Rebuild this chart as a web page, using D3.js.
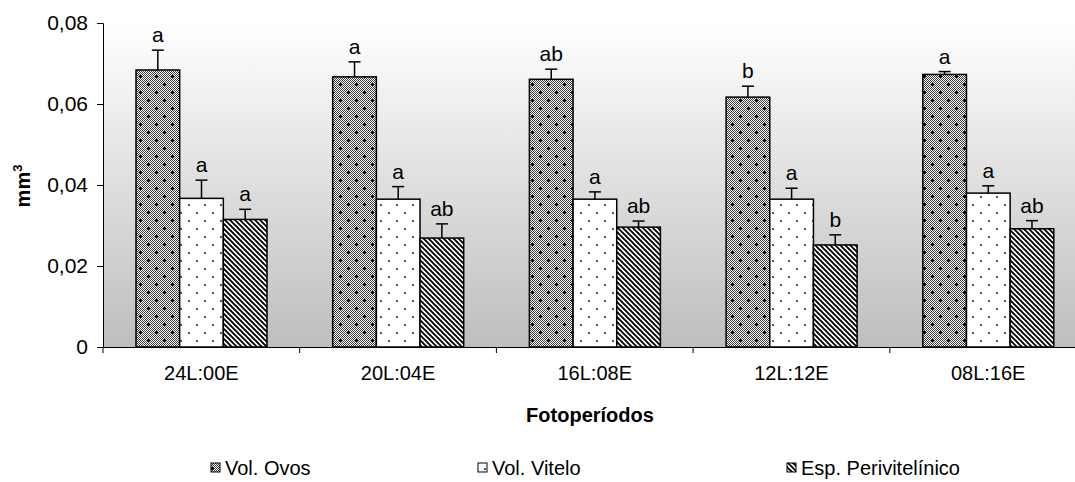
<!DOCTYPE html>
<html>
<head>
<meta charset="utf-8">
<script src="https://cdn.jsdelivr.net/npm/d3@7"></script>
<style>
  html, body { margin: 0; padding: 0; background: #fff; }
  svg { display: block; font-family: "Liberation Sans", Arial, sans-serif; }
</style>
</head>
<body>
<svg id="chart" width="1075" height="482"></svg>
<script>
// ---- data ----
const categories = ["24L:00E", "20L:04E", "16L:08E", "12L:12E", "08L:16E"];
const seriesNames = ["Vol. Ovos", "Vol. Vitelo", "Esp. Perivitelínico"];
const volOvos   = [0.0684, 0.0667, 0.0661, 0.0617, 0.0673];
const volVitelo = [0.0367, 0.0365, 0.0365, 0.0365, 0.0380];
const espPeri   = [0.0315, 0.0269, 0.0296, 0.0252, 0.0292];
const errOvos   = [0.0049, 0.0037, 0.0025, 0.0027, 0.0007];
const errVitelo = [0.0045, 0.0031, 0.0018, 0.0027, 0.0018];
const errPeri   = [0.0025, 0.0035, 0.0015, 0.0025, 0.0020];
const lettersOvos   = ["a", "a", "ab", "b", "a"];
const lettersVitelo = ["a", "a", "a", "a", "a"];
const lettersPeri   = ["a", "ab", "ab", "b", "ab"];
const yTicks = [0, 0.02, 0.04, 0.06, 0.08];
const yTickLabels = ["0", "0,02", "0,04", "0,06", "0,08"];

(function () {
const values = [volOvos, volVitelo, espPeri];
const errors = [errOvos, errVitelo, errPeri];
const letters = [lettersOvos, lettersVitelo, lettersPeri];

// ---- layout ----
const svg = d3.select("#chart");
const pLeft = 103, pTop = 23, pBottom = 347, step = 196.7;
const pRight = pLeft + step * categories.length;

const x = d3.scaleBand().domain(categories).range([pLeft, pRight]).padding(0);
const xs = d3.scaleBand().domain(seriesNames).range([33, 33 + 131]).padding(0);
const y = d3.scaleLinear().domain([0, 0.08]).range([pBottom, pTop]);

// ---- defs: gradient & patterns ----
const defs = svg.append("defs");
const grad = defs.append("linearGradient").attr("id", "bg")
  .attr("x1", 0).attr("y1", 0).attr("x2", 0).attr("y2", 1);
grad.append("stop").attr("offset", "0%").attr("stop-color", "#ffffff");
grad.append("stop").attr("offset", "100%").attr("stop-color", "#bebebe");

// fine checker
const chk = defs.append("pattern").attr("id", "checker")
  .attr("patternUnits", "userSpaceOnUse").attr("width", 2).attr("height", 2);
chk.append("rect").attr("width", 2).attr("height", 2).attr("fill", "#ffffff");
chk.append("rect").attr("width", 1).attr("height", 1).attr("fill", "#3a3a3a");
chk.append("rect").attr("x", 1).attr("y", 1).attr("width", 1).attr("height", 1).attr("fill", "#3a3a3a");

// Ovos: checker + crosses
const pOv = defs.append("pattern").attr("id", "pOvos")
  .attr("patternUnits", "userSpaceOnUse").attr("width", 16).attr("height", 16);
pOv.append("rect").attr("width", 16).attr("height", 16).attr("fill", "url(#checker)");
[[4, 4], [12, 12]].forEach(([cx, cy]) => {
  pOv.append("rect").attr("x", cx - 1).attr("y", cy).attr("width", 3).attr("height", 1).attr("fill", "#000");
  pOv.append("rect").attr("x", cx).attr("y", cy - 1).attr("width", 1).attr("height", 3).attr("fill", "#000");
});

// Vitelo: white with dots
const pVi = defs.append("pattern").attr("id", "pVitelo")
  .attr("patternUnits", "userSpaceOnUse").attr("width", 16).attr("height", 16);
pVi.append("rect").attr("width", 16).attr("height", 16).attr("fill", "#fff");
[[4, 4], [12, 12]].forEach(([cx, cy]) => {
  pVi.append("rect").attr("x", cx).attr("y", cy).attr("width", 2).attr("height", 2).attr("fill", "#555");
});

// Perivitelinico: diagonal stripes (\)
const pPe = defs.append("pattern").attr("id", "pPeri")
  .attr("patternUnits", "userSpaceOnUse").attr("width", 5).attr("height", 5);
pPe.append("rect").attr("width", 5).attr("height", 5).attr("fill", "#fff");
pPe.append("path").attr("d", "M-1,-1 L6,6 M-1,4 L1,6 M4,-1 L6,1")
  .attr("stroke", "#000").attr("stroke-width", 1.9);

const fills = ["url(#pOvos)", "url(#pVitelo)", "url(#pPeri)"];

// ---- plot background ----
svg.append("rect").attr("x", pLeft).attr("y", pTop)
  .attr("width", pRight - pLeft).attr("height", pBottom - pTop)
  .attr("fill", "url(#bg)");

// ---- bars ----
const g = svg.append("g");
seriesNames.forEach((s, si) => {
  categories.forEach((c, ci) => {
    const v = values[si][ci], e = errors[si][ci];
    const bx = x(c) + xs(s), bw = xs.bandwidth();
    const cx = bx + bw / 2;
    g.append("rect")
      .attr("x", bx).attr("y", y(v))
      .attr("width", bw).attr("height", y(0) - y(v))
      .attr("fill", fills[si])
      .attr("stroke", "#000").attr("stroke-width", 1.5);
    g.append("line").attr("x1", cx).attr("x2", cx)
      .attr("y1", y(v)).attr("y2", y(v + e))
      .attr("stroke", "#000").attr("stroke-width", 1.5);
    g.append("line").attr("x1", cx - 6).attr("x2", cx + 6)
      .attr("y1", y(v + e)).attr("y2", y(v + e))
      .attr("stroke", "#000").attr("stroke-width", 1.5);
    g.append("text").attr("x", cx).attr("y", y(v + e) - 8)
      .attr("text-anchor", "middle").attr("font-size", 21).attr("fill", "#000")
      .text(letters[si][ci]);
  });
});

// ---- axes ----
const yAxis = d3.axisLeft(y).tickValues(yTicks)
  .tickFormat((d, i) => yTickLabels[i]).tickSizeOuter(0).tickSize(6).tickPadding(9);
const ya = svg.append("g").attr("transform", `translate(${pLeft},0)`).call(yAxis);
ya.select(".domain").attr("stroke", "#000").attr("stroke-width", 1);
ya.selectAll(".tick line").attr("stroke", "#000");
ya.selectAll(".tick text").attr("font-size", 21).attr("fill", "#000")
  .attr("font-family", '"Liberation Sans", Arial, sans-serif');

const xAxis = d3.axisBottom(x).tickSize(0).tickPadding(19);
const xa = svg.append("g").attr("transform", `translate(0,${pBottom})`).call(xAxis);
xa.select(".domain").attr("stroke", "#000").attr("stroke-width", 1);
xa.selectAll(".tick text").attr("font-size", 20).attr("fill", "#000")
  .attr("font-family", '"Liberation Sans", Arial, sans-serif');
svg.append("g").selectAll("line")
  .data(categories.slice(1)).join("line")
  .attr("x1", d => x(d)).attr("x2", d => x(d))
  .attr("y1", pBottom).attr("y2", pBottom + 6)
  .attr("stroke", "#000");
svg.append("line").attr("x1", pLeft).attr("x2", pLeft)
  .attr("y1", pBottom).attr("y2", pBottom + 6).attr("stroke", "#000");

// ---- axis titles ----
const yt = svg.append("text")
  .attr("transform", `translate(30,186) rotate(-90)`)
  .attr("text-anchor", "middle").attr("font-size", 20).attr("font-weight", "bold");
yt.append("tspan").text("mm");
yt.append("tspan").attr("font-size", 13).attr("dy", -8).text("3");

svg.append("text").attr("x", 590).attr("y", 422)
  .attr("text-anchor", "middle").attr("font-size", 20).attr("font-weight", "bold")
  .text("Fotoperíodos");

// ---- legend ----
const legendX = [211, 478, 787];
const leg = svg.append("g");
seriesNames.forEach((s, i) => {
  leg.append("rect").attr("x", legendX[i]).attr("y", 463)
    .attr("width", 9).attr("height", 9)
    .attr("fill", fills[i]).attr("stroke", "#000").attr("stroke-width", 1);
  leg.append("text").attr("x", legendX[i] + 14).attr("y", 475)
    .attr("font-size", 20).attr("fill", "#000").text(s);
});
})();
</script>
</body>
</html>
